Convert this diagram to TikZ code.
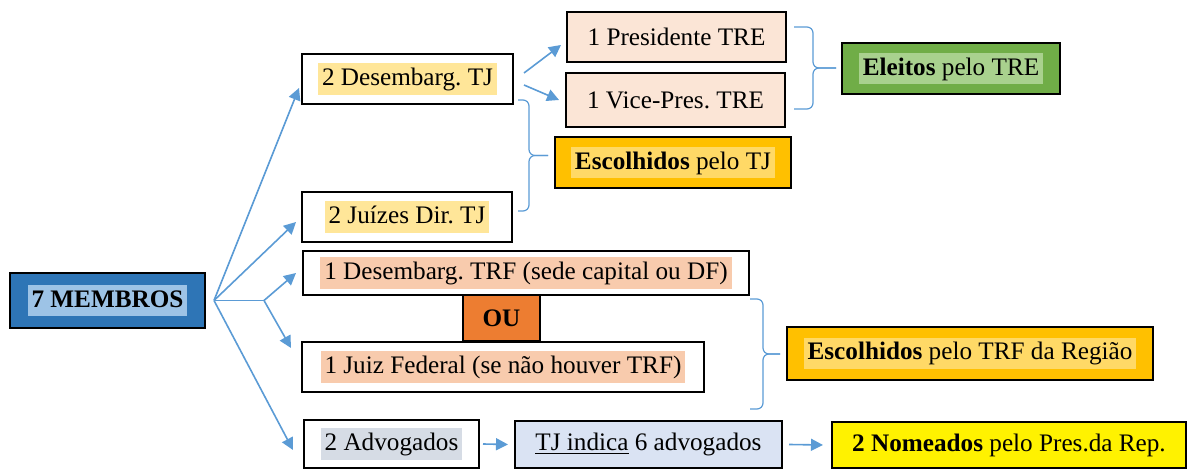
\documentclass[tikz,border=0pt]{standalone}
\usepackage{fontspec}
\setmainfont{Liberation Serif}
\usetikzlibrary{arrows.meta}
\usetikzlibrary{calc}
\definecolor{memberblue}{HTML}{2E75B6}
\definecolor{memberlight}{HTML}{9DC3E6}
\definecolor{tjyellow}{HTML}{FFE699}
\definecolor{trepeach}{HTML}{FBE5D6}
\definecolor{gold}{HTML}{FFC000}
\definecolor{goldlight}{HTML}{FFD966}
\definecolor{tregreen}{HTML}{70AD47}
\definecolor{tregreenlight}{HTML}{A9D18E}
\definecolor{trfpeach}{HTML}{F8CBAD}
\definecolor{ouorange}{HTML}{ED7D31}
\definecolor{advgray}{HTML}{D6DCE5}
\definecolor{indicablue}{HTML}{DAE3F3}
\definecolor{arrowblue}{HTML}{5B9BD5}
\frenchspacing
\setlength{\fboxsep}{2pt}
\newcommand{\hilite}[2]{\colorbox{#1}{\rule[-2.5pt]{0pt}{11.7pt}#2}}
\tikzstyle{box}=[draw, line width=1pt, inner sep=0pt, font=\fontsize{12.6}{15}\selectfont]
\tikzstyle{trunk}=[draw=arrowblue, line width=0.8pt]
\tikzstyle{link}=[trunk, -{Triangle[length=6pt, width=6pt]}]
\tikzstyle{bracket}=[draw=arrowblue, line width=0.6pt, rounded corners=3pt]

\begin{document}
\begin{tikzpicture}[x=0.5pt, y=-0.5pt]
      \useasboundingbox (0,0) rectangle (1189,469);
      % root
      \node[box, fill=memberblue, minimum width=97.5pt, minimum height=27.5pt] (members) at (107.5,300.5) {\hilite{memberlight}{\textbf{7 MEMBROS}}};
      % TJ / TRE
      \node[box, fill=white, minimum width=105.5pt, minimum height=25pt] (desTJ) at (407.5,79) {\hilite{tjyellow}{2 Desembarg. TJ}};
      \node[box, fill=white, minimum width=105pt, minimum height=25pt] (juizTJ) at (407,217) {\hilite{tjyellow}{2 Juízes Dir. TJ}};
      \node[box, fill=trepeach, minimum width=109.5pt, minimum height=25pt] (pres) at (676.5,37) {1 Presidente TRE};
      \node[box, fill=trepeach, minimum width=109.5pt, minimum height=27pt] (vice) at (675.5,100) {1 Vice-Pres. TRE};
      \node[box, fill=gold, minimum width=118pt, minimum height=25.5pt] (escTJ) at (673,162.5) {\hilite{goldlight}{\textbf{Escolhidos} pelo TJ}};
      \node[box, fill=tregreen, minimum width=109pt, minimum height=25.5pt] (eleitos) at (951,68.5) {\hilite{tregreenlight}{\textbf{Eleitos} pelo TRE}};
      % TRF
      \node[box, fill=white, minimum width=223pt, minimum height=22pt] (desTRF) at (526,273) {\hilite{trfpeach}{1 Desembarg. TRF (sede capital ou DF)}};
      \node[box, fill=ouorange, minimum width=38.5pt, minimum height=23pt] (ou) at (501.5,318) {\textbf{OU}};
      \node[box, fill=white, minimum width=201pt, minimum height=25pt] (juizFed) at (503,367) {\hilite{trfpeach}{1 Juiz Federal (se não houver TRF)}};
      \node[box, fill=gold, minimum width=183pt, minimum height=26.5pt] (escTRF) at (970,353.5) {\hilite{goldlight}{\textbf{Escolhidos} pelo TRF da Região}};
      % advogados
      \node[box, fill=white, minimum width=87.5pt, minimum height=24pt] (adv) at (391.5,444) {\hilite{advgray}{2 Advogados}};
      \node[box, fill=indicablue, minimum width=133.5pt, minimum height=23.5pt] (tjind) at (648.5,444.5) {\underline{TJ indica} 6 advogados};
      \node[box, fill=yellow, minimum width=177pt, minimum height=23pt] (nomeados) at (1009,445) {\textbf{2 Nomeados} pelo Pres.da Rep.};

      \coordinate (hub) at ([xshift=4pt]members.east);
      \coordinate (split) at ([xshift=25pt]hub);
      \draw[link] (hub) -- ([xshift=-1pt, yshift=-4.5pt]desTJ.west);
      \draw[link] (hub) -- ([xshift=-2.5pt, yshift=-2.5pt]juizTJ.west);
      \draw[trunk] (hub) -- (split);
      \draw[link] (split) -- ([xshift=-3pt]desTRF.west);
      \draw[link] (split) -- ([xshift=-5pt, yshift=9.5pt]juizFed.west);
      \draw[link] (hub) -- ([xshift=-5pt, yshift=-3pt]adv.west);
      \draw[link] ([xshift=5pt, yshift=3pt]desTJ.east) -- ([xshift=-2.5pt, yshift=-4pt]pres.west);
      \draw[link] ([xshift=5pt, yshift=-3pt]desTJ.east) -- ([xshift=-3pt]vice.west);
      \draw[link] ([xshift=1.5pt]adv.east) -- ([xshift=-3pt]tjind.west);
      \draw[link] ([xshift=3pt]tjind.east) -- ([xshift=-4pt]nomeados.west);

      % braces
      \coordinate (tjTop) at ([xshift=2pt, yshift=2.5pt]desTJ.south east);
      \coordinate (tjBot) at ([xshift=2.5pt, yshift=3pt]juizTJ.east);
      \coordinate (tjTip) at ($(tjTop)!0.5!(tjBot)+(15pt,0)$);
      \draw[bracket] (tjTop) -- ++(5.5pt,0) |- (tjTip);
      \draw[bracket] (tjBot) -- ++(5.5pt,0) |- (tjTip);
      \coordinate (treTop) at ([xshift=3.5pt, yshift=5pt]pres.east);
      \coordinate (treBot) at ([xshift=4pt, yshift=-4.5pt]vice.east);
      \coordinate (treTip) at ($(treTop)!0.5!(treBot)+(21pt,0)$);
      \draw[bracket] (treTop) -- ++(9.5pt,0) |- (treTip);
      \draw[bracket] (treBot) -- ++(9.5pt,0) |- (treTip);
      \coordinate (trfTop) at ([yshift=-1.5pt]desTRF.south east);
      \coordinate (trfBot) at ([xshift=22.5pt, yshift=-8pt]juizFed.south east);
      \coordinate (trfTip) at ($(trfTop)!0.5!(trfBot)+(15pt,0)$);
      \draw[bracket] (trfTop) -- ++(6.5pt,0) |- (trfTip);
      \draw[bracket] (trfBot) -- ++(6.5pt,0) |- (trfTip);
    \end{tikzpicture}
\end{document}
